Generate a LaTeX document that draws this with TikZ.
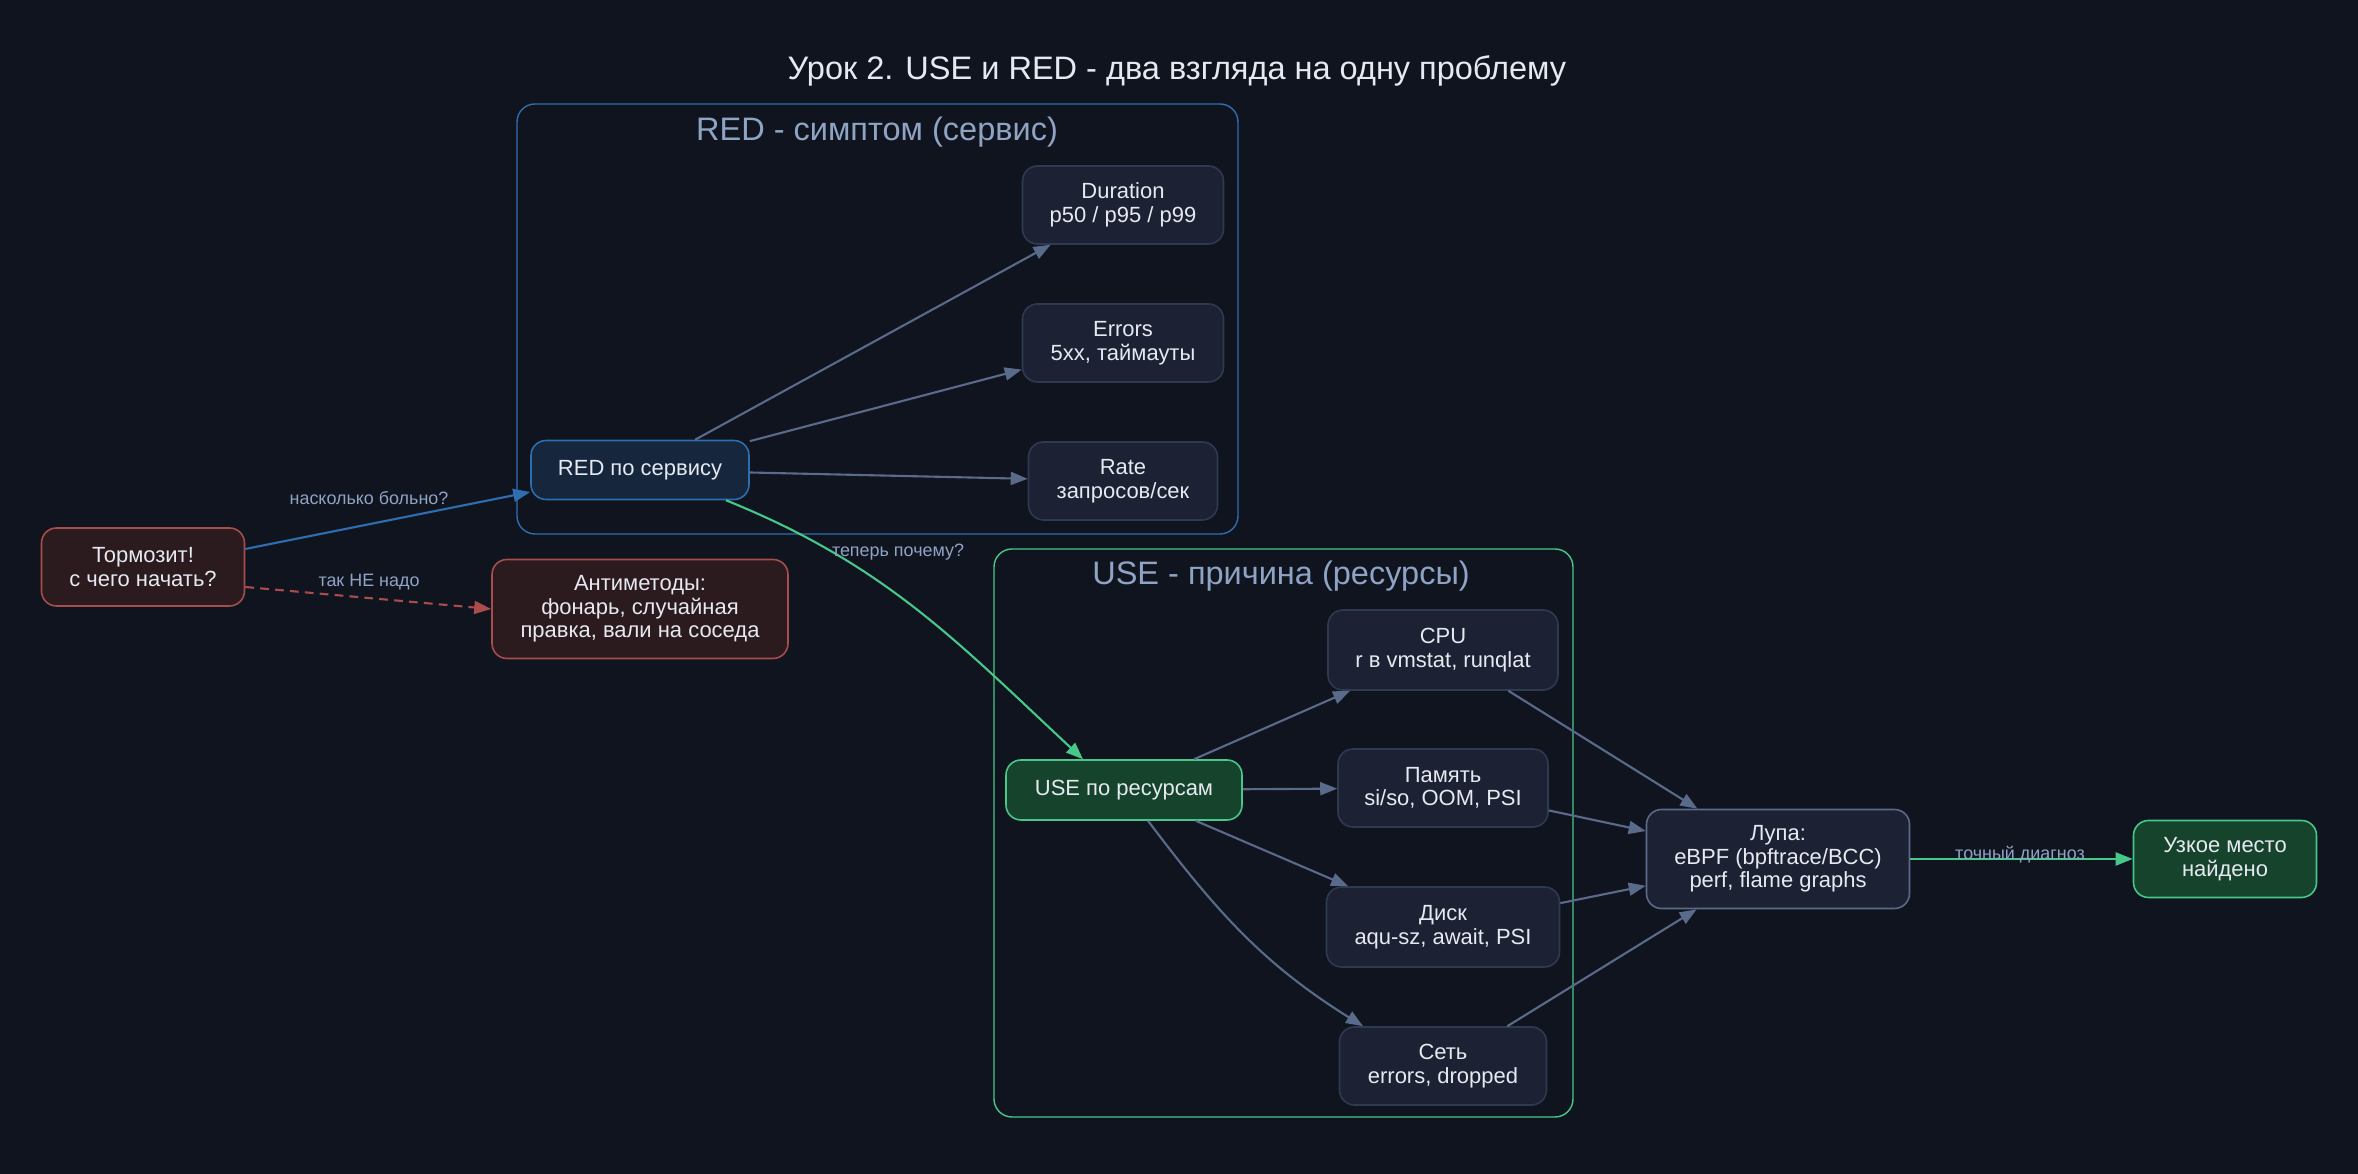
\documentclass[tikz,border=0pt]{standalone}
\usepackage{fontspec}
\setmainfont{Liberation Sans}
\usetikzlibrary{arrows.meta}

\definecolor{bgdark}{HTML}{10141F}
\definecolor{boxfill}{HTML}{1C2233}
\definecolor{boxline}{HTML}{2E3A50}
\definecolor{lensline}{HTML}{5A6A8A}
\definecolor{redfill}{HTML}{15263D}
\definecolor{redline}{HTML}{2D6DB0}
\definecolor{usefill}{HTML}{15432C}
\definecolor{useline}{HTML}{48C78A}
\definecolor{badfill}{HTML}{2B1B1E}
\definecolor{badline}{HTML}{A84C4C}
\definecolor{edgegray}{HTML}{5A6A8A}
\definecolor{softtext}{HTML}{8FA3C4}
\definecolor{brighttext}{HTML}{E6E9F0}

\newcommand{\boxtextfont}{\fontsize{12.5}{13.5}\selectfont}
\newcommand{\edgetextfont}{\fontsize{10.2}{12}\selectfont}
\newcommand{\titletextfont}{\fontsize{18.5}{22}\selectfont}

\tikzset{
  box/.style={draw=boxline, fill=boxfill, rounded corners=0.3cm, line width=0.9pt,
    text=brighttext, align=center, font=\boxtextfont, inner sep=0pt},
  redbox/.style={box, draw=redline, fill=redfill},
  usebox/.style={box, draw=useline, fill=usefill},
  badbox/.style={box, draw=badline, fill=badfill},
  edge/.style={draw=edgegray, line width=1.2pt, -{Triangle[length=0.34cm, width=0.26cm]}},
  lbl/.style={text=softtext, font=\edgetextfont, inner sep=1pt},
  framelbl/.style={text=softtext, font=\titletextfont},
  frame/.style={rounded corners=0.36cm, line width=0.8pt}
}

\begin{document}
\begin{tikzpicture}
  % Background and page size
  \fill[bgdark] (0,0) rectangle (47.16,23.48);
  \useasboundingbox (0,0) rectangle (47.16,23.48);

  % Title
  \node[text=brighttext, font=\titletextfont] (title) at (23.54,22.06) {Урок 2. USE и RED - два взгляда на одну проблему};

  % Cluster frames
  \draw[frame, draw=redline] (10.34,12.8) rectangle (24.76,21.4);
  \node[framelbl] (redtitle) at (17.54,20.84) {RED - симптом (сервис)};
  \draw[frame, draw=useline] (19.88,1.14) rectangle (31.46,12.5);
  \node[framelbl] (usetitle) at (25.62,11.96) {USE - причина (ресурсы)};

  % Start and anti-methods
  \node[badbox, minimum width=4.06cm, minimum height=1.56cm] (slow) at (2.86,12.14) {Тормозит!\\с чего начать?};
  \node[badbox, minimum width=5.92cm, minimum height=1.98cm] (anti) at (12.8,11.3) {Антиметоды:\\фонарь, случайная\\правка, вали на соседа};

  % RED side
  \node[redbox, minimum width=4.36cm, minimum height=1.18cm] (red) at (12.8,14.08) {RED по сервису};
  \node[box, minimum width=4.02cm, minimum height=1.56cm] (dur) at (22.46,19.38) {Duration\\p50 / p95 / p99};
  \node[box, minimum width=4.02cm, minimum height=1.56cm] (err) at (22.46,16.62) {Errors\\5xx, таймауты};
  \node[box, minimum width=3.78cm, minimum height=1.56cm] (rate) at (22.46,13.86) {Rate\\запросов/сек};

  % USE side
  \node[usebox, minimum width=4.72cm, minimum height=1.2cm] (use) at (22.48,7.68) {USE по ресурсам};
  \node[box, minimum width=4.6cm, minimum height=1.6cm] (cpu) at (28.86,10.48) {CPU\\r в vmstat, runqlat};
  \node[box, minimum width=4.2cm, minimum height=1.56cm] (mem) at (28.86,7.72) {Память\\si/so, OOM, PSI};
  \node[box, minimum width=4.66cm, minimum height=1.6cm] (disk) at (28.86,4.94) {Диск\\aqu-sz, await, PSI};
  \node[box, minimum width=4.14cm, minimum height=1.56cm] (net) at (28.86,2.16) {Сеть\\errors, dropped};

  % Lens and result
  \node[box, draw=lensline, minimum width=5.26cm, minimum height=1.98cm] (lens) at (35.56,6.3) {Лупа:\\eBPF (bpftrace/BCC)\\perf, flame graphs};
  \node[usebox, minimum width=3.66cm, minimum height=1.54cm] (found) at (44.5,6.3) {Узкое место\\найдено};

  % Edges from the start
  \draw[edge, draw=redline] ([yshift=0.36cm]slow.east) -- ([yshift=-0.44cm]red.west);
  \draw[edge, draw=badline, dash pattern=on 5pt off 3.5pt] ([yshift=-0.4cm]slow.east) -- (anti.west);
  \node[lbl] (lblpain) at (7.38,13.52) {насколько больно?};
  \node[lbl] (lblnot) at (7.38,11.84) {так НЕ надо};

  % RED metrics
  \draw[edge] (red) -- (dur);
  \draw[edge] (red) -- (err);
  \draw[edge] (red) -- (rate);

  % RED to USE
  \draw[edge, draw=useline] ([xshift=1.72cm]red.south) to[out=-22, in=137] ([xshift=-0.82cm]use.north);
  \node[lbl] (lblwhy) at (17.96,12.44) {теперь почему?};

  % USE resources
  \draw[edge] (use) -- (cpu);
  \draw[edge] (use) -- (mem);
  \draw[edge] (use) -- (disk);
  \draw[edge] ([xshift=0.48cm]use.south) to[out=-53, in=148] ([xshift=-1.6cm]net.north);

  % Resources to lens
  \draw[edge] (cpu) -- (lens);
  \draw[edge] (mem) -- (lens);
  \draw[edge] (disk) -- (lens);
  \draw[edge] (net) -- (lens);

  % Lens to result
  \draw[edge, draw=useline] (lens) -- (found);
  \node[lbl] (lbldiag) at (40.4,6.38) {точный диагноз};
\end{tikzpicture}
\end{document}
